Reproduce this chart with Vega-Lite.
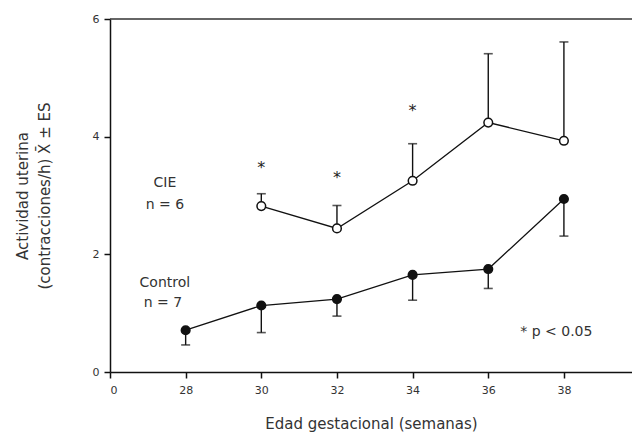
{
  "$schema": "https://vega.github.io/schema/vega-lite/v6.json",
  "width": 522,
  "height": 353,
  "autosize": {"type": "none"},
  "padding": {"left": 110, "top": 19, "right": 0, "bottom": 67},
  "background": "white",
  "config": {
    "view": {"stroke": null},
    "font": "DejaVu Sans",
    "axis": {"grid": false, "domainColor": "#111", "domainWidth": 1.5, "tickColor": "#111", "tickWidth": 1.5, "labelColor": "#333", "titleColor": "#333", "labelFont": "DejaVu Sans", "titleFont": "DejaVu Sans", "titleFontWeight": "normal"}
  },
  "datasets": {
    "means": [
      {"group": "CIE", "week": 30, "mean": 2.82, "err": 3.03},
      {"group": "CIE", "week": 32, "mean": 2.44, "err": 2.83},
      {"group": "CIE", "week": 34, "mean": 3.25, "err": 3.88},
      {"group": "CIE", "week": 36, "mean": 4.24, "err": 5.41},
      {"group": "CIE", "week": 38, "mean": 3.93, "err": 5.61},
      {"group": "Control", "week": 28, "mean": 0.71, "err": 0.46},
      {"group": "Control", "week": 30, "mean": 1.13, "err": 0.67},
      {"group": "Control", "week": 32, "mean": 1.24, "err": 0.95},
      {"group": "Control", "week": 34, "mean": 1.65, "err": 1.22},
      {"group": "Control", "week": 36, "mean": 1.75, "err": 1.42},
      {"group": "Control", "week": 38, "mean": 2.94, "err": 2.31}
    ],
    "stars": [
      {"week": 30, "y": 3.54},
      {"week": 32, "y": 3.37},
      {"week": 34, "y": 4.5}
    ],
    "labels": [
      {"week": 27.45, "y": 3.21, "label": "CIE"},
      {"week": 27.45, "y": 2.84, "label": "n = 6"},
      {"week": 27.45, "y": 1.51, "label": "Control"},
      {"week": 27.4, "y": 1.17, "label": "n = 7"},
      {"week": 37.8, "y": 0.68, "label": "* p < 0.05"}
    ],
    "top": [{"y": 6}]
  },
  "layer": [
    {
      "data": {"name": "top"},
      "mark": {"type": "rule", "color": "#333", "strokeWidth": 1.5},
      "encoding": {"y": {"field": "y", "type": "quantitative"}}
    },
    {
      "data": {"name": "means"},
      "mark": {"type": "rule", "color": "#111", "strokeWidth": 1.4},
      "encoding": {
        "x": {"field": "week", "type": "quantitative"},
        "y": {"field": "mean", "type": "quantitative"},
        "y2": {"field": "err"}
      }
    },
    {
      "data": {"name": "means"},
      "mark": {"type": "tick", "orient": "horizontal", "color": "#111", "size": 9, "thickness": 1.6},
      "encoding": {
        "x": {"field": "week", "type": "quantitative"},
        "y": {"field": "err", "type": "quantitative"}
      }
    },
    {
      "data": {"name": "means"},
      "mark": {"type": "line", "color": "#111", "strokeWidth": 1.3},
      "encoding": {
        "x": {
          "field": "week", "type": "quantitative",
          "scale": {"domain": [26, 39.8], "nice": false, "zero": false},
          "axis": {"values": [26, 28, 30, 32, 34, 36, 38], "labelExpr": "datum.value == 26 ? '0' : datum.value", "tickSize": 6, "labelFontSize": 11, "labelPadding": 6, "title": "Edad gestacional (semanas)", "titleFontSize": 15, "titlePadding": 21}
        },
        "y": {
          "field": "mean", "type": "quantitative",
          "scale": {"domain": [0, 6], "nice": false},
          "axis": {"values": [0, 2, 4, 6], "format": "d", "tickSize": 6, "labelFontSize": 11, "labelPadding": 5, "title": ["Actividad uterina", "(contracciones/h)  X̄ ± ES"], "titleFontSize": 15, "titleLineHeight": 22, "titlePadding": 40}
        },
        "detail": {"field": "group"}
      }
    },
    {
      "data": {"name": "means"},
      "mark": {"type": "point", "shape": "circle", "size": 75, "strokeWidth": 1.5, "opacity": 1},
      "encoding": {
        "x": {"field": "week", "type": "quantitative"},
        "y": {"field": "mean", "type": "quantitative"},
        "fill": {"field": "group", "type": "nominal", "scale": {"domain": ["CIE", "Control"], "range": ["white", "#111"]}, "legend": null},
        "stroke": {"value": "#111"}
      }
    },
    {
      "data": {"name": "stars"},
      "mark": {"type": "text", "text": "*", "fontSize": 16, "color": "#222", "dy": 4},
      "encoding": {
        "x": {"field": "week", "type": "quantitative"},
        "y": {"field": "y", "type": "quantitative"}
      }
    },
    {
      "data": {"name": "labels"},
      "mark": {"type": "text", "fontSize": 14, "color": "#333", "baseline": "middle", "align": "center"},
      "encoding": {
        "x": {"field": "week", "type": "quantitative"},
        "y": {"field": "y", "type": "quantitative"},
        "text": {"field": "label"}
      }
    }
  ]
}
